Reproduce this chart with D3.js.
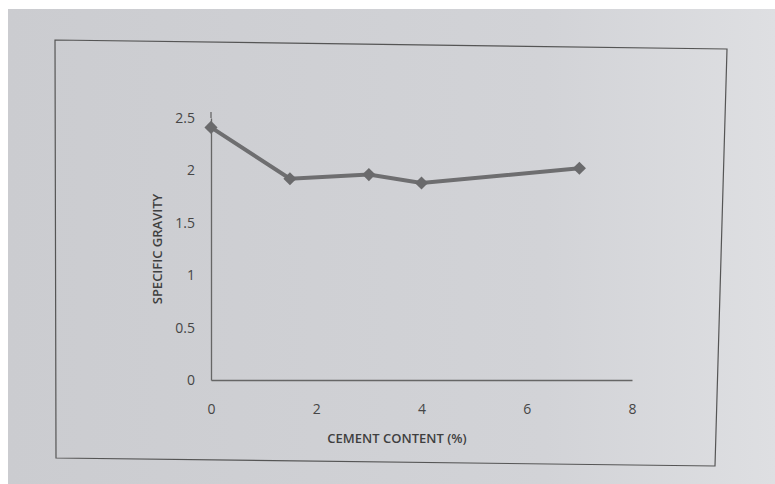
<!DOCTYPE html>
<html>
<head>
<meta charset="utf-8">
<script src="https://cdn.jsdelivr.net/npm/d3@7"></script>
<style>
  body { margin: 0; background: #fff; }
  svg { display: block; }
</style>
</head>
<body>
<div id="chart"></div>
<script>
// cement content (%) vs specific gravity
const cement = [0, 1.5, 3, 4, 7]
const gravity = [2.41, 1.92, 1.96, 1.88, 2.02]
const xTicks = [0, 2, 4, 6, 8]
const yTicks = [0, 0.5, 1, 1.5, 2, 2.5]

const W = 775
const H = 484

const svg = d3
  .select('#chart')
  .append('svg')
  .attr('width', W)
  .attr('height', H)

// photographed paper look
const grad = svg.append('defs').append('linearGradient').attr('id', 'paper')
grad.append('stop').attr('offset', '0%').attr('stop-color', '#cbccd0')
grad.append('stop').attr('offset', '70%').attr('stop-color', '#d2d3d7')
grad.append('stop').attr('offset', '100%').attr('stop-color', '#dedfe2')

svg
  .append('rect')
  .attr('x', 8)
  .attr('y', 9)
  .attr('width', W - 8)
  .attr('height', H - 9)
  .attr('fill', 'url(#paper)')

// outer frame of the chart
svg
  .append('path')
  .attr('d', 'M55,40 L727,49 L715,466 L56,458 Z')
  .attr('fill', 'none')
  .attr('stroke', '#555')
  .attr('stroke-width', 1.2)

let margin = { left: 211, top: 118, right: 632, bottom: 380 }

const x = d3.scaleLinear().domain([0, 8]).range([margin.left, margin.right])
const y = d3.scaleLinear().domain([0, 2.5]).range([margin.bottom, margin.top])

const font = '"Open Sans", "Liberation Sans", sans-serif'

// axes
svg
  .append('g')
  .attr('transform', 'translate(0,' + margin.bottom + ')')
  .call(d3.axisBottom(x).tickValues(xTicks).tickSize(0).tickPadding(24).tickFormat(d3.format('')))
svg
  .append('g')
  .attr('transform', 'translate(' + margin.left + ',0)')
  .call(d3.axisLeft(y).tickValues(yTicks).tickSize(0).tickPadding(16).tickFormat(d3.format('')))

svg.selectAll('.domain').attr('stroke', '#666').attr('stroke-width', 1.3)
svg
  .selectAll('.tick text')
  .attr('fill', '#464646')
  .style('font-family', font)
  .style('font-size', '14px')

// y axis line runs a little past 2.5
svg
  .append('line')
  .attr('x1', margin.left)
  .attr('x2', margin.left)
  .attr('y1', margin.top - 6)
  .attr('y2', margin.top)
  .attr('stroke', '#666')
  .attr('stroke-width', 1.3)

// axis titles
svg
  .append('text')
  .attr('x', 397)
  .attr('y', 443)
  .attr('text-anchor', 'middle')
  .attr('fill', '#3f3f3f')
  .style('font-family', font)
  .style('font-size', '13px')
  .style('font-weight', 600)
  .text('CEMENT CONTENT (%)')

svg
  .append('text')
  .attr('transform', 'translate(162,' + (margin.top + margin.bottom) / 2 + ') rotate(-90)')
  .attr('text-anchor', 'middle')
  .attr('fill', '#3f3f3f')
  .style('font-family', font)
  .style('font-size', '13px')
  .style('font-weight', 600)
  .text('SPECIFIC GRAVITY')

const points = cement.map((c, i) => ({ c: c, g: gravity[i] }))

const line = d3
  .line()
  .x(d => x(d.c))
  .y(d => y(d.g))

svg
  .append('path')
  .datum(points)
  .attr('d', line)
  .attr('fill', 'none')
  .attr('stroke', '#6e6e70')
  .attr('stroke-width', 4)

svg
  .selectAll('.pt')
  .data(points)
  .enter()
  .append('path')
  .attr('class', 'pt')
  .attr('d', d3.symbol().type(d3.symbolDiamond2).size(110))
  .attr('transform', d => 'translate(' + x(d.c) + ',' + y(d.g) + ')')
  .attr('fill', '#6a6a6c')
</script>
</body>
</html>
